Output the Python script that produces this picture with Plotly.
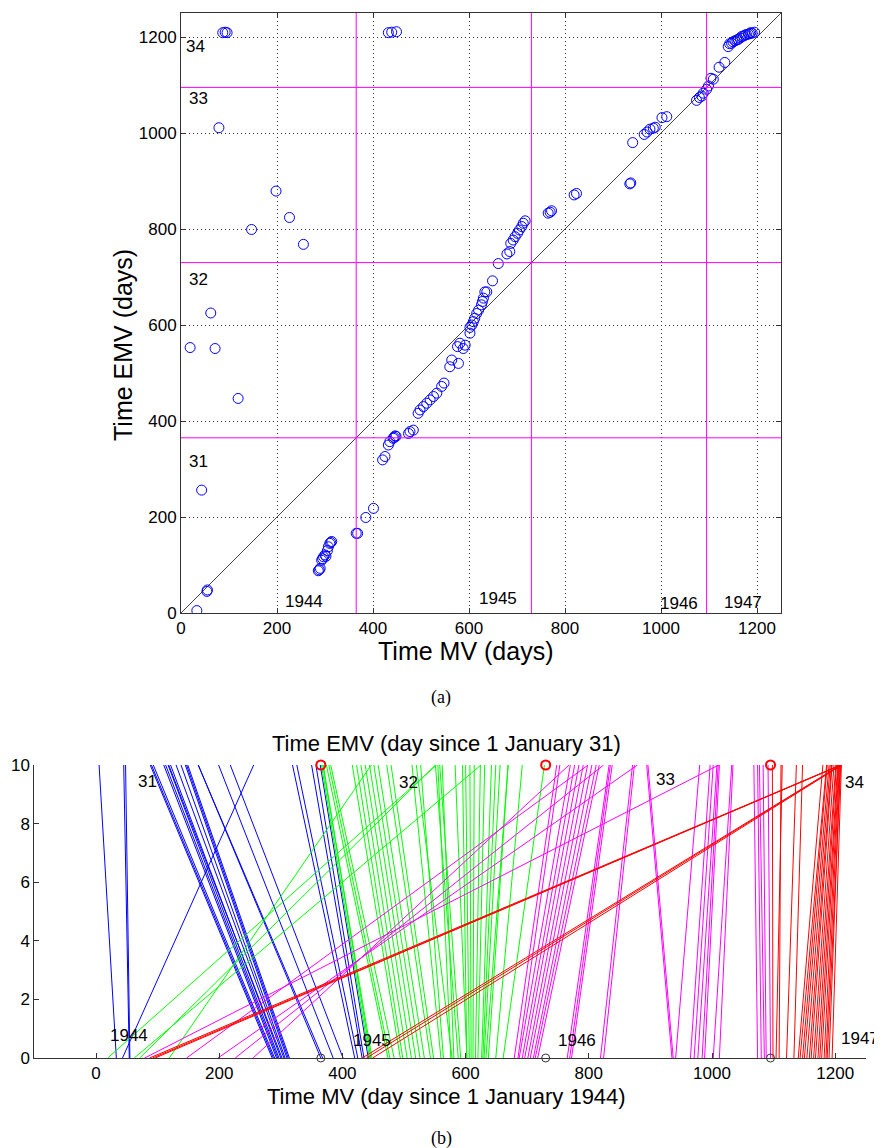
import plotly.graph_objects as go

# ---- data (days) ----
mv = [33, 54, 55, 43, 19, 62, 71, 119, 147, 198, 226, 255, 79, 87, 92, 96, 432, 439, 449,
      286, 288, 290, 293, 295, 297, 300, 302, 305, 307, 310, 312, 314,
      365, 368, 385, 401, 420, 425, 432, 435, 442,
      444, 446, 448, 474, 477, 484, 494, 498, 505, 512, 519, 526, 533, 543, 548,
      560, 564, 578, 576, 581, 588, 592, 602, 602, 606, 609, 612, 616, 620, 626, 628, 630, 633, 637, 649, 661,
      679, 685, 687, 692, 696, 701, 705, 710, 713, 717,
      765, 769, 772, 819, 824, 935, 937, 941, 965, 971, 977, 984, 988, 1002, 1012,
      1074, 1080, 1085, 1088, 1095, 1099, 1104, 1109, 1121, 1133,
      1140, 1143, 1147, 1150, 1154, 1158, 1161, 1165, 1168, 1172, 1175, 1178, 1182, 1185, 1187, 1190, 1195]
emv = [5, 45, 48, 256, 553, 625, 551, 447, 799, 879, 824, 768, 1011, 1209, 1210, 1209, 1209, 1210, 1211,
       88, 90, 93, 110, 113, 117, 121, 118, 130, 138, 145, 147, 149,
       166, 166, 199, 218, 319, 326, 350, 357, 364,
       366, 369, 368, 374, 378, 381, 416, 423, 430, 437, 444, 451, 458, 472, 479,
       513, 527, 520, 555, 562, 551, 558, 583, 595, 600, 607, 614, 624, 631, 642, 649, 656, 669, 669, 692, 728,
       748, 753, 770, 777, 784, 791, 798, 805, 812, 817,
       833, 835, 838, 871, 874, 894, 896, 980, 997, 1002, 1008, 1010, 1012, 1032, 1034,
       1068, 1074, 1077, 1083, 1091, 1098, 1114, 1112, 1137, 1147,
       1180, 1186, 1187, 1190, 1192, 1194, 1195, 1198, 1201, 1202, 1204, 1205, 1206, 1207, 1209, 1208, 1210]

year_bounds = [365, 730, 1095]
emv_year_labels = ["31", "32", "33", "34"]
mv_year_labels = ["1944", "1945", "1946", "1947"]
year_colors = ["#0000FF", "#00FF00", "#FF00FF", "#FF0000"]
ticks_main = [0, 200, 400, 600, 800, 1000, 1200]
ticks_b_y = [0, 2, 4, 6, 8, 10]

# label anchor values (data coords)
a_emv_lab_x = [36, 36, 37, 31]
a_emv_lab_y = [315, 694, 1071, 1181]
a_mv_lab_x = [256, 660, 1038, 1171]
a_mv_lab_y = [25, 31, 19, 21]
b_emv_lab_x = [83, 507, 924, 1232]
b_emv_lab_y = [9.42, 9.39, 9.49, 9.39]
b_mv_lab_x = [53, 448, 781, 1240]
b_mv_lab_y = [0.78, 0.61, 0.61, 0.65]

FONT = "Liberation Sans, Arial, sans-serif"
W, H = 882, 1148
OFF = 8  # page body margin in the browser


def px_x(p):
    return (p - OFF) / W


def px_y(p):
    return 1 - (p - OFF) / H


fig = go.Figure()

# ---- panel (a) ----
fig.add_trace(go.Scatter(x=[0, 1250], y=[0, 1250], mode="lines",
                         line=dict(color="#444444", width=1), xaxis="x", yaxis="y",
                         showlegend=False, hoverinfo="skip"))
fig.add_trace(go.Scatter(x=mv, y=emv, mode="markers", xaxis="x", yaxis="y",
                         marker=dict(symbol="circle-open", size=10, color="#0000FF",
                                     line=dict(width=1, color="#2B2BFF")),
                         showlegend=False))

shapes = []
for b in year_bounds:
    shapes.append(dict(type="line", xref="x", yref="y domain", x0=b, x1=b, y0=0, y1=1,
                       line=dict(color="#FF00FF", width=1)))
    shapes.append(dict(type="line", xref="x domain", yref="y", x0=0, x1=1, y0=b, y1=b,
                       line=dict(color="#FF00FF", width=1)))

annotations = []
for lab, xx, yy in zip(emv_year_labels, a_emv_lab_x, a_emv_lab_y):
    annotations.append(dict(x=xx, y=yy, xref="x", yref="y", text=lab, showarrow=False,
                            font=dict(size=17, color="black", family=FONT)))
for lab, xx, yy in zip(mv_year_labels, a_mv_lab_x, a_mv_lab_y):
    annotations.append(dict(x=xx, y=yy, xref="x", yref="y", text=lab, showarrow=False,
                            font=dict(size=17, color="black", family=FONT)))

# ---- panel (b) ----
def color_of(e):
    idx = 0
    for b in year_bounds:
        if e >= b:
            idx += 1
    return idx

for ci, col in enumerate(year_colors):
    xs, ys = [], []
    for m, e in zip(mv, emv):
        if color_of(e) == ci:
            xs += [m, e, None]
            ys += [0, 10, None]
    fig.add_trace(go.Scatter(x=xs, y=ys, mode="lines", xaxis="x2", yaxis="y2",
                             line=dict(color=col, width=1), showlegend=False,
                             hoverinfo="skip"))

fig.add_trace(go.Scatter(x=year_bounds, y=[10] * len(year_bounds), mode="markers",
                         xaxis="x2", yaxis="y2", cliponaxis=False,
                         marker=dict(symbol="circle-open", size=9, color="#FF0000",
                                     line=dict(width=2, color="#FF0000")),
                         showlegend=False))
fig.add_trace(go.Scatter(x=year_bounds, y=[0] * len(year_bounds), mode="markers",
                         xaxis="x2", yaxis="y2", cliponaxis=False,
                         marker=dict(symbol="circle-open", size=8, color="#333333",
                                     line=dict(width=1, color="#333333")),
                         showlegend=False))

for lab, xx, yy in zip(emv_year_labels, b_emv_lab_x, b_emv_lab_y):
    annotations.append(dict(x=xx, y=yy, xref="x2", yref="y2", text=lab, showarrow=False,
                            font=dict(size=17, color="black", family=FONT)))
for lab, xx, yy in zip(mv_year_labels, b_mv_lab_x, b_mv_lab_y):
    annotations.append(dict(x=xx, y=yy, xref="x2", yref="y2", text=lab, showarrow=False,
                            font=dict(size=17, color="black", family=FONT)))

# axis titles as paper annotations (pixel positions in the page)
for text, (px, py), size, ang in [
    ("Time MV (days)", (466, 651), 25, 0),
    ("Time EMV (days)", (123, 345), 25, -90),
    ("Time EMV (day since 1 January 31)", (446, 743), 22, 0),
    ("Time MV (day since 1 January 1944)", (446, 1096), 22, 0),
]:
    annotations.append(dict(x=px_x(px), y=px_y(py), xref="paper", yref="paper", text=text,
                            showarrow=False, textangle=ang, xanchor="center",
                            yanchor="middle",
                            font=dict(size=size, color="black", family=FONT)))
for text, (px, py) in [("(a)", (441, 697)), ("(b)", (441, 1138))]:
    annotations.append(dict(x=px_x(px), y=px_y(py), xref="paper", yref="paper", text=text,
                            showarrow=False, xanchor="center", yanchor="middle",
                            font=dict(size=18, color="black",
                                      family="Liberation Serif, serif")))

axis_common = dict(ticks="inside", ticklen=5, tickcolor="#333333", showline=True,
                   linecolor="#333333", linewidth=1, zeroline=False, automargin=False,
                   tickfont=dict(size=17, color="black", family=FONT))

fig.update_layout(
    width=W, height=H,
    margin=dict(l=0, r=0, t=0, b=0, pad=0),
    paper_bgcolor="white", plot_bgcolor="white",
    font=dict(family=FONT, color="black"),
    shapes=shapes, annotations=annotations,
    xaxis=dict(domain=[px_x(181), px_x(781)], range=[0, 1250], anchor="y",
               tickvals=ticks_main, mirror="ticks", showgrid=True, gridcolor="#333333",
               griddash="1px,3px", gridwidth=1, **axis_common),
    yaxis=dict(domain=[px_y(613), px_y(13)], range=[0, 1250], anchor="x",
               tickvals=ticks_main, mirror="ticks", showgrid=True, gridcolor="#333333",
               griddash="1px,3px", gridwidth=1, **axis_common),
    xaxis2=dict(domain=[px_x(34.4), px_x(866)], range=[-100, 1250], anchor="y2",
                tickvals=ticks_main, showgrid=False, **axis_common),
    yaxis2=dict(domain=[px_y(1058), px_y(765)], range=[0, 10], anchor="x2",
                tickvals=ticks_b_y, showgrid=False, **axis_common),
)

fig.write_html("out.html")
